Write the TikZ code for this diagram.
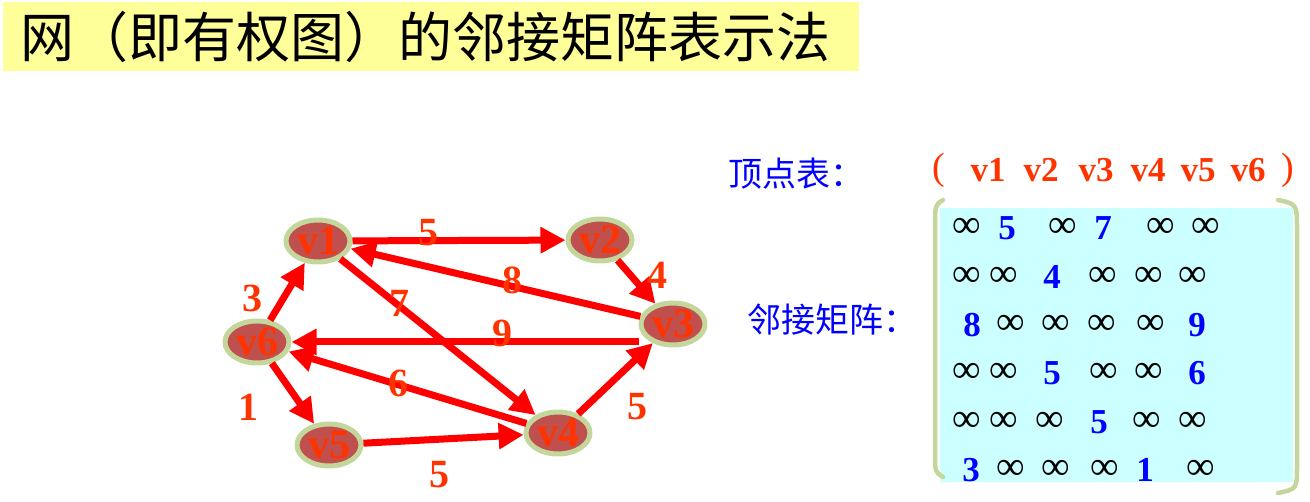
\documentclass[tikz,border=0pt]{standalone}
\usepackage{fontspec}
\setmainfont{Liberation Serif}
\newfontfamily\cjk{Noto Sans CJK SC}
\usepackage{xcolor}
\usetikzlibrary{positioning, calc, shapes.geometric, arrows.meta}

\definecolor{titleyellow}{HTML}{FFFF99}
\definecolor{arcred}{HTML}{FF0000}
\definecolor{labred}{HTML}{FF3300}
\definecolor{vertfill}{HTML}{C0504D}
\definecolor{ringgreen}{HTML}{C3D69B}
\definecolor{matcyan}{HTML}{CCFFFF}
\definecolor{cnblue}{HTML}{0000FF}

\begin{document}
\begin{tikzpicture}[x=1pt,y=-1pt, line cap=round, line join=round,
  vert/.style={ellipse, draw=ringgreen, line width=5pt, fill=vertfill,
    minimum width=64pt, minimum height=42pt, inner sep=0pt, text=labred,
    font=\fontsize{42}{42}\selectfont\bfseries},
  arrowline/.style={draw=arcred, line width=7pt, line cap=butt,
    -{Triangle[length=25pt,width=25pt]}},
  wlab/.style={text=labred, inner sep=0pt, font=\fontsize{40}{40}\selectfont\bfseries},
  cnlab/.style={text=cnblue, inner sep=0pt, font=\cjk\fontsize{34}{34}\selectfont},
  hlab/.style={text=labred, inner sep=0pt, font=\fontsize{35}{35}\selectfont\bfseries},
  inf/.style={inner sep=0pt, font=\fontsize{40}{40}\selectfont},
  wnum/.style={text=cnblue, inner sep=0pt, font=\fontsize{35}{35}\selectfont\bfseries}]

\useasboundingbox (0,0) rectangle (1310,502);

% title
\node[fill=titleyellow, anchor=north west, text width=822pt, inner xsep=17pt,
  minimum height=69pt, align=left, font=\cjk\fontsize{54}{54}\selectfont] (title)
  at (3,2) {网（即有权图）的邻接矩阵表示法};

% graph
\node[vert] (v1) at (318,241) {v1};
\node[vert] (v2) at (600,240) {v2};
\node[vert] (v3) at (673,324) {v3};
\node[vert] (v4) at (558,433) {v4};
\node[vert] (v5) at (329,445) {v5};
\node[vert] (v6) at (257,342) {v6};

\draw[arrowline] (v1) -- (v2);
\draw[arrowline] (v2) -- (v3);
\draw[arrowline] (v3) -- (v1);
\draw[arrowline] (v3.west |- v6) -- (v6);
\draw[arrowline] (v1) -- (v4);
\draw[arrowline] (v4) -- (v6);
\draw[arrowline] (v6) -- (v1);
\draw[arrowline] (v6) -- (v5);
\draw[arrowline] (v5) -- (v4);
\draw[arrowline] (v4) -- (v3);

\node[wlab] (w12) at (428,233) {5};
\node[wlab] (w23) at (657,275) {4};
\node[wlab] (w31) at (512,280) {8};
\node[wlab] (w36) at (502,333) {9};
\node[wlab] (w14) at (399,303) {7};
\node[wlab] (w46) at (398,383) {6};
\node[wlab] (w61) at (252,298) {3};
\node[wlab] (w65) at (248,407) {1};
\node[wlab] (w54) at (439,475) {5};
\node[wlab] (w43) at (637,407) {5};

% vertex table
\node[cnlab] (vtab) at (796,174) {顶点表：};
\node[hlab, font=\fontsize{38}{38}\selectfont] (lp) at (939,170) {(};
\node[hlab] (h1) at (988,170) {v1};
\node[hlab] (h2) at (1041,170) {v2};
\node[hlab] (h3) at (1096,170) {v3};
\node[hlab] (h4) at (1148,170) {v4};
\node[hlab] (h5) at (1198,170) {v5};
\node[hlab] (h6) at (1248,170) {v6};
\node[hlab, font=\fontsize{38}{38}\selectfont] (rp) at (1288,170) {)};

% adjacency matrix
\node[cnlab] (adj) at (832,320) {邻接矩阵：};
\fill[matcyan] (940,208) rectangle (1293,482);
\draw[ringgreen, line width=4.5pt] (943,200) .. controls (935,205) .. (935,228)
  -- (935,452) .. controls (935,472) .. (943,477);
\draw[ringgreen, line width=4.5pt] (1278,200) .. controls (1297,204) .. (1297,230)
  -- (1297,465) .. controls (1297,489) .. (1278,493);

\node[inf]  (m11) at (967,228)  {∞};
\node[wnum] (m12) at (1007,228) {5};
\node[inf]  (m13) at (1063,228) {∞};
\node[wnum] (m14) at (1103,228) {7};
\node[inf]  (m15) at (1161,228) {∞};
\node[inf]  (m16) at (1206,228) {∞};

\node[inf]  (m21) at (967,277)  {∞};
\node[inf]  (m22) at (1004,277) {∞};
\node[wnum] (m23) at (1052,277) {4};
\node[inf]  (m24) at (1103,277) {∞};
\node[inf]  (m25) at (1149,277) {∞};
\node[inf]  (m26) at (1193,277) {∞};

\node[wnum] (m31) at (972,325)  {8};
\node[inf]  (m32) at (1011,325) {∞};
\node[inf]  (m33) at (1056,325) {∞};
\node[inf]  (m34) at (1102,325) {∞};
\node[inf]  (m35) at (1151,325) {∞};
\node[wnum] (m36) at (1197,325) {9};

\node[inf]  (m41) at (967,373)  {∞};
\node[inf]  (m42) at (1004,373) {∞};
\node[wnum] (m43) at (1052,373) {5};
\node[inf]  (m44) at (1104,373) {∞};
\node[inf]  (m45) at (1149,373) {∞};
\node[wnum] (m46) at (1197,373) {6};

\node[inf]  (m51) at (967,422)  {∞};
\node[inf]  (m52) at (1004,422) {∞};
\node[inf]  (m53) at (1050,422) {∞};
\node[wnum] (m54) at (1099,422) {5};
\node[inf]  (m55) at (1147,422) {∞};
\node[inf]  (m56) at (1193,422) {∞};

\node[wnum] (m61) at (971,470)  {3};
\node[inf]  (m62) at (1011,470) {∞};
\node[inf]  (m63) at (1056,470) {∞};
\node[inf]  (m64) at (1105,470) {∞};
\node[wnum] (m65) at (1145,470) {1};
\node[inf]  (m66) at (1201,470) {∞};

\end{tikzpicture}
\end{document}
